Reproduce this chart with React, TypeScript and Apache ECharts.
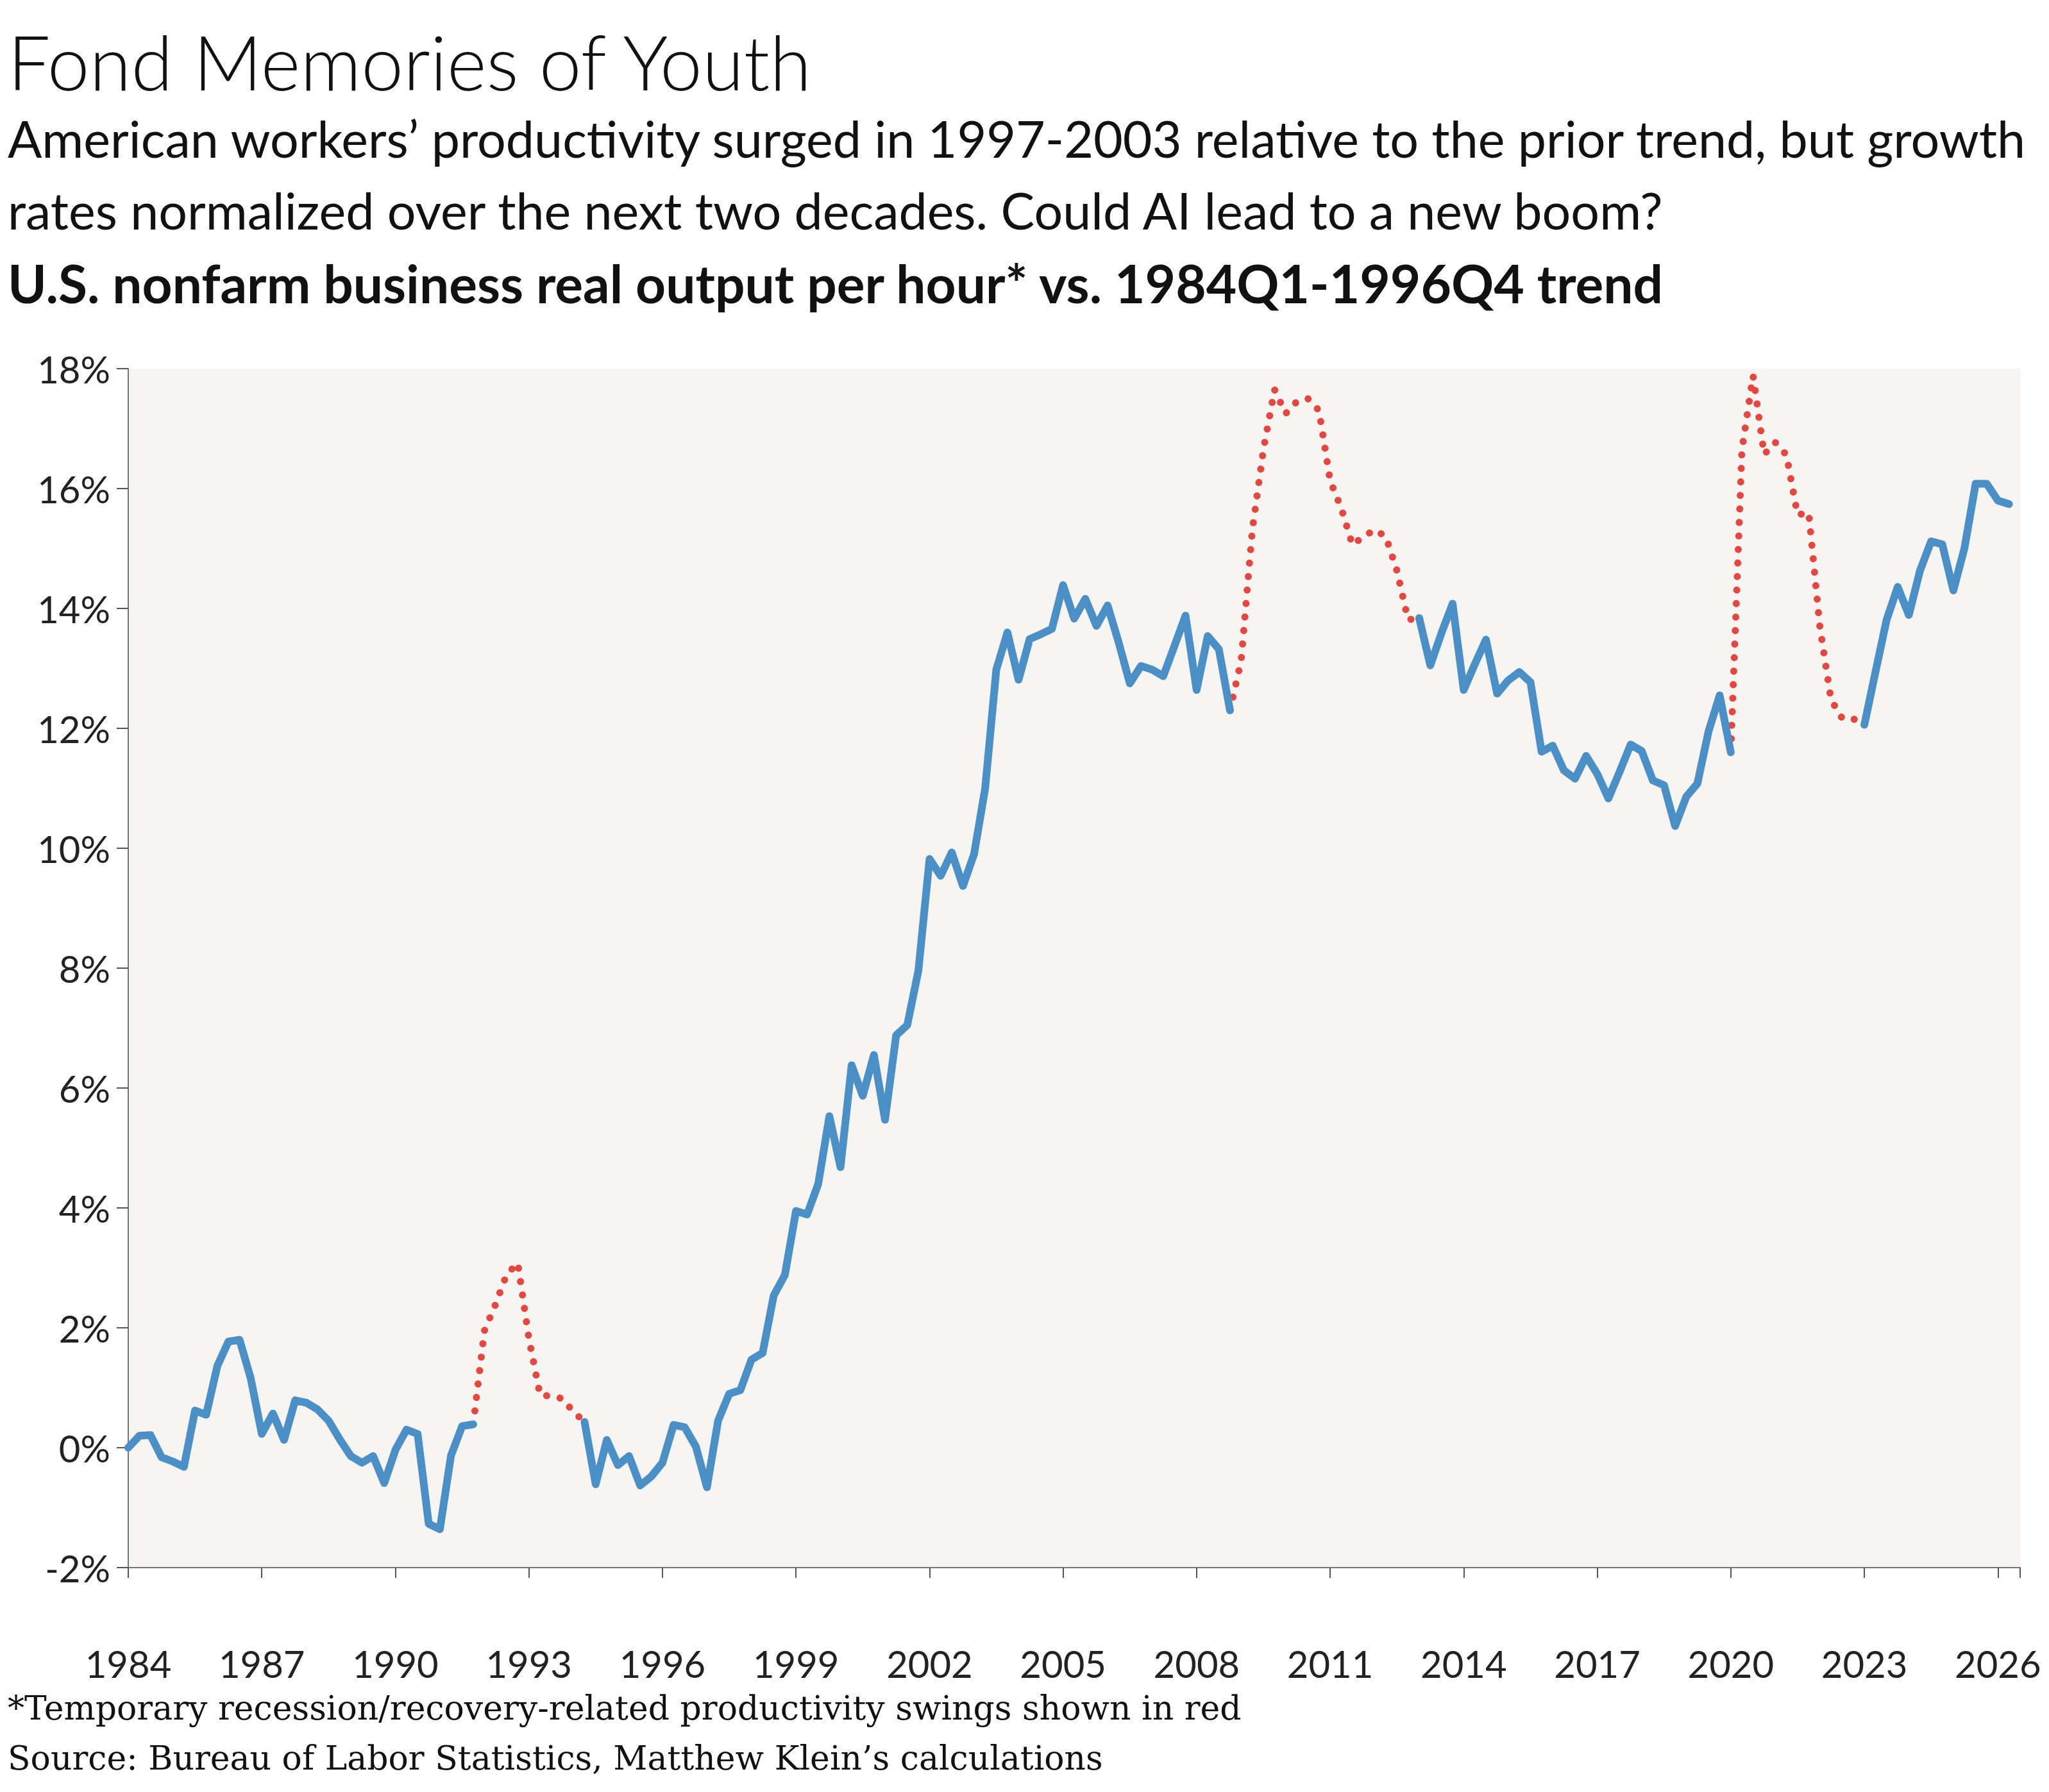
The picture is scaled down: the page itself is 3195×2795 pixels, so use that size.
import React, { useEffect, useRef } from "react";
import * as echarts from "echarts";

const startYear = 1984;
const xTickLabels = [1984, 1987, 1990, 1993, 1996, 1999, 2002, 2005, 2008, 2011, 2014, 2017, 2020, 2023, 2026];
const yTickValues = [-2, 0, 2, 4, 6, 8, 10, 12, 14, 16, 18];

// quarterly values, 1984Q1 onward (% vs. 1984Q1-1996Q4 trend)
const values = [
  0.0, 0.2, 0.21, -0.16, -0.23, -0.32, 0.62, 0.55, 1.36, 1.77, 1.8, 1.16, 0.23, 0.57, 0.13, 0.79,
  0.75, 0.64, 0.45, 0.14, -0.14, -0.25, -0.14, -0.59, -0.04, 0.3, 0.23, -1.27, -1.36, -0.13, 0.36, 0.39,
  1.95, 2.39, 2.89, 3.08, 1.82, 0.88, 0.86, 0.82, 0.6, 0.43, -0.61, 0.13, -0.29, -0.14, -0.63, -0.48,
  -0.25, 0.38, 0.34, 0.02, -0.66, 0.45, 0.9, 0.96, 1.47, 1.58, 2.54, 2.88, 3.95, 3.89, 4.4, 5.53,
  4.68, 6.38, 5.87, 6.55, 5.47, 6.88, 7.05, 7.96, 9.82, 9.54, 9.93, 9.37, 9.9, 11.0, 12.98, 13.6,
  12.81, 13.49, 13.57, 13.66, 14.39, 13.83, 14.16, 13.71, 14.05, 13.43, 12.75, 13.04, 12.98, 12.87, 13.37, 13.88,
  12.64, 13.54, 13.32, 12.3, 13.13, 15.3, 16.65, 17.65, 17.25, 17.45, 17.5, 17.3, 16.13, 15.67, 15.06, 15.2,
  15.31, 15.2, 14.63, 13.81, 13.84, 13.05, 13.59, 14.08, 12.64, 13.07, 13.48, 12.58, 12.8, 12.94, 12.77, 11.61,
  11.71, 11.3, 11.16, 11.54, 11.24, 10.83, 11.27, 11.73, 11.62, 11.13, 11.05, 10.37, 10.86, 11.08, 11.95, 12.55,
  11.6, 16.65, 17.88, 16.57, 16.77, 16.56, 15.56, 15.6, 13.7, 12.48, 12.17, 12.16, 12.06, 12.94, 13.81, 14.36,
  13.89, 14.63, 15.12, 15.07, 14.3, 15.01, 16.08, 16.08, 15.8, 15.74,
];

// recession/recovery-related swings (quarter index ranges, inclusive)
const redRanges: [number, number][] = [[31, 41], [99, 116], [144, 156]];

const FONT = "Lato, 'Open Sans', sans-serif";
const SERIF = "DejaVu Serif";

export default function App() {
  const ref = useRef<HTMLDivElement>(null);
  useEffect(() => {
    const chart = echarts.init(ref.current!, null, { renderer: "svg" });
    const isRed = (i: number) => redRanges.some(([a, b]) => i >= a && i <= b);
    const isRedInner = (i: number) => redRanges.some(([a, b]) => i > a && i < b);
    const blue = values.map((v, i) => [i / 4, isRedInner(i) ? null : v]);
    const red = values.map((v, i) => [i / 4, isRed(i) ? v : null]);
    const xMax = 42.5;
    const txt = (x: number, y: number, text: string, size: number, weight: string | number, family: string) => ({
      type: "text", x, y,
      style: { text, fontSize: size, fontWeight: weight, fontFamily: family, fill: "#111", verticalAlign: "top", align: "left" },
    });
    chart.setOption({
      animation: false,
      backgroundColor: "#ffffff",
      grid: { left: 192, right: 37, top: 567, bottom: 342, show: true, backgroundColor: "#f7f5f1", borderWidth: 0 },
      xAxis: [
        {
          type: "value", min: 0, max: xMax, interval: 3,
          axisLine: { show: false }, axisTick: { show: false }, splitLine: { show: false },
          axisLabel: {
            formatter: (v: number) => (xTickLabels.includes(v + startYear) ? String(v + startYear) : ""),
            fontFamily: FONT, fontSize: 58, color: "#222", margin: 120,
          },
        },
        {
          type: "value", min: 0, max: xMax, interval: 3, position: "bottom",
          axisLine: { show: true, onZero: true, lineStyle: { color: "#777", width: 2 } },
          axisTick: { show: true, length: 16, lineStyle: { color: "#555", width: 2 } },
          axisLabel: { show: false }, splitLine: { show: false },
        },
      ],
      yAxis: {
        type: "value", min: yTickValues[0], max: yTickValues[yTickValues.length - 1], interval: 2,
        axisLine: { show: true, lineStyle: { color: "#777", width: 2 } },
        axisTick: { show: true, length: 18, lineStyle: { color: "#555", width: 2 } },
        splitLine: { show: false },
        axisLabel: { formatter: "{value}%", fontFamily: FONT, fontSize: 58, color: "#222", margin: 28 },
      },
      series: [
        {
          type: "line", data: blue, showSymbol: false, connectNulls: false, xAxisIndex: 0,
          lineStyle: { color: "#4a8fc6", width: 12, join: "round", cap: "round" },
          z: 3,
        },
        {
          type: "line", data: red, showSymbol: false, connectNulls: false, xAxisIndex: 0,
          lineStyle: { color: "#e5463f", width: 11, type: [0.1, 21], cap: "round" },
          z: 2,
        },
      ],
      graphic: [
        txt(4, 28, "Fond Memories of Youth", 118, 300, FONT),
        txt(4, 168, "American workers\u2019 productivity surged in 1997-2003 relative to the prior trend, but growth", 79, 400, FONT),
        txt(4, 280, "rates normalized over the next two decades. Could AI lead to a new boom?", 79, 400, FONT),
        txt(4, 392, "U.S. nonfarm business real output per hour* vs. 1984Q1-1996Q4 trend", 82, 700, FONT),
        txt(4, 2630, "*Temporary recession/recovery-related productivity swings shown in red", 52, 400, SERIF),
        txt(4, 2708, "Source: Bureau of Labor Statistics, Matthew Klein\u2019s calculations", 52, 400, SERIF),
      ],
    });
    return () => chart.dispose();
  }, []);
  return <div ref={ref} style={{ width: 3179, height: 2779 }} />;
}
